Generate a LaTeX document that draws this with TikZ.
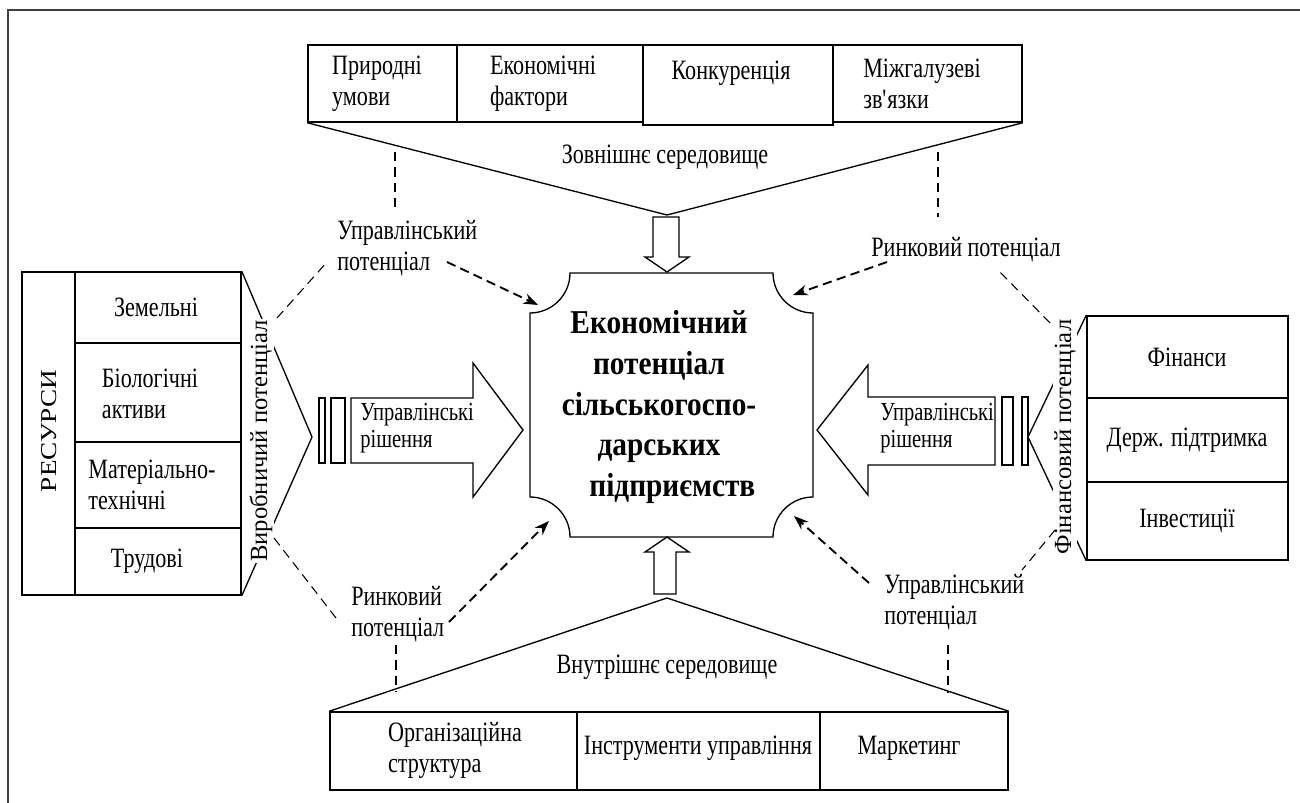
\documentclass[tikz,border=0pt]{standalone}
\usepackage{fontspec}
\setmainfont{Liberation Serif}[FakeStretch=0.79]
\newfontfamily\plainf{Liberation Serif}
\newfontfamily\widef{Liberation Serif}[FakeStretch=1.2]
\newfontfamily\boldf{Liberation Serif}[FakeStretch=0.88]
\usetikzlibrary{arrows.meta,fit,calc}
\begin{document}
\begin{tikzpicture}[x=0.75pt,y=-0.75pt,
  box/.style={draw,line width=1.15pt,inner sep=0pt},
  txt/.style={font=\fontsize{21pt}{23.25pt}\selectfont,align=left,inner sep=0pt},
  stxt/.style={font=\fontsize{19.5pt}{20pt}\selectfont,align=left,inner sep=0pt},
  rot/.style={font=\plainf\fontsize{18.5pt}{20pt}\selectfont,rotate=90,fill=white,inner sep=1pt},
  ln/.style={line width=1pt},
  dsh/.style={line width=0.8pt,dash pattern=on 7pt off 4.5pt},
  darr/.style={line width=1.4pt,dash pattern=on 7pt off 4pt,-{Stealth[length=11pt,width=8pt]}},
  blk/.style={draw,line width=1pt,fill=white,line join=miter}]
\useasboundingbox (0,0) rectangle (1300,803);
% frame
\draw[line width=1.5pt,black!75] (8,803) -- (8,10) -- (1300,10);

% top row
\node[box,fit={(308,45) (457,122)}] (t1) {};
\node[box,fit={(457,45) (643,122)}] (t2) {};
\node[box,fit={(643,45) (833,125)}] (t3) {};
\node[box,fit={(833,45) (1022,122)}] (t4) {};
\node[txt] (t1x) at (377,84) {Природні\\умови};
\node[txt] (t2x) at (543,84) {Економічні\\фактори};
\node[txt] (t3x) at (731,73) {Конкуренція};
\node[txt] (t4x) at (922,84) {Міжгалузеві\\зв\textquotesingle язки};
\coordinate (topapex) at (667,215);
\draw[ln] (t1.south west) -- (topapex) -- (t4.south east);
\node[txt] (ext) at (665,157) {Зовнішнє середовище};

% bottom row
\node[box,fit={(330,712) (577,790)}] (b1) {};
\node[box,fit={(577,712) (820,790)}] (b2) {};
\node[box,fit={(820,712) (1008,790)}] (b3) {};
\node[txt] (b1x) at (455,750) {Організаційна\\структура};
\node[txt] (b2x) at (698,748) {Інструменти управління};
\node[txt] (b3x) at (909,748) {Маркетинг};
\coordinate (botapex) at (667,598);
\draw[ln] (b1.north west) -- (botapex) -- (b3.north east);
\node[txt] (int) at (667,667) {Внутрішнє середовище};

% left resources
\node[box,fit={(22,272) (75,595)}] (res) {};
\node[font=\widef\fontsize{17pt}{18pt}\selectfont,rotate=90,inner sep=0pt] (resx) at (49,431) {РЕСУРСИ};
\node[box,fit={(75,272) (241,343)}] (l1) {};
\node[box,fit={(75,343) (241,442)}] (l2) {};
\node[box,fit={(75,442) (241,528)}] (l3) {};
\node[box,fit={(75,528) (241,595)}] (l4) {};
\node[txt] (l1x) at (156,307) {Земельні};
\node[txt] (l2x) at (150,394) {Біологічні\\активи};
\node[txt] (l3x) at (152,485) {Матеріально-\\технічні};
\node[txt] (l4x) at (147,561) {Трудові};
\coordinate (lpt) at (312,437);
\draw[ln] (l1.north east) -- (lpt) -- (l4.south east);
\node[rot] (vp) at (261,441) {Виробничий потенціал};

% right resources
\node[box,fit={(1087,316) (1288,398)}] (r1) {};
\node[box,fit={(1087,398) (1288,482)}] (r2) {};
\node[box,fit={(1087,482) (1288,560)}] (r3) {};
\node[txt] (r1x) at (1187,357) {Фінанси};
\node[txt] (r2x) at (1187,440) {Держ. підтримка};
\node[txt] (r3x) at (1187,521) {Інвестиції};
\coordinate (rpt) at (1028,437);
\draw[ln] (r1.north west) -- (rpt) -- (r3.south west);
\node[rot] (fp) at (1065,437) {Фінансовий потенціал};

% central node
\node[inner sep=0pt,fit={(530,273) (813,537)}] (core) {};
\draw[ln] (570,273) -- (773,273) .. controls (773,295) and (791,313) .. (813,313)
  -- (813,497) .. controls (791,497) and (773,515) .. (773,537)
  -- (570,537) .. controls (570,515) and (552,497) .. (530,497)
  -- (530,313) .. controls (552,313) and (570,295) .. (570,273) -- cycle;
\node[font=\boldf\bfseries\fontsize{25pt}{30.5pt}\selectfont,align=center,inner sep=0pt] (corex) at (659,407)
  {Економічний\\потенціал\\сільськогоспо-\\дарських\\\hspace*{0.8em}підприємств};

% block arrows top/bottom
\draw[blk] (653,217) -- (679,217) -- (679,257) -- (689,257) -- (667,272) -- (645,257) -- (653,257) -- cycle;
\draw[blk] (654,594) -- (676,594) -- (676,552) -- (689,552) -- (667,537) -- (645,552) -- (654,552) -- cycle;

% left decision arrow
\draw[blk] (319,398) rectangle (325,463);
\draw[blk] (331,398) rectangle (345,463);
\draw[blk] (351,398) -- (473,398) -- (473,363) -- (523,430) -- (473,497) -- (473,463) -- (351,463) -- cycle;
\node[stxt,anchor=west] (ld) at (360,428) {Управлінські\\рішення};

% right decision arrow
\draw[blk] (1002,397) rectangle (1013,465);
\draw[blk] (1022,397) rectangle (1028,465);
\draw[blk] (995,397) -- (868,397) -- (868,365) -- (817,430) -- (868,495) -- (868,465) -- (995,465) -- cycle;
\node[stxt,anchor=west] (rd) at (880,428) {Управлінські\\рішення};

% potential labels
\node[txt,anchor=west] (ul) at (337,248) {Управлінський\\потенціал};
\node[txt] (ur) at (966,250) {Ринковий потенціал};
\node[txt,anchor=west] (ll) at (351,614) {Ринковий\\потенціал};
\node[txt,anchor=west] (lr) at (884,602) {Управлінський\\потенціал};

% dashed verticals
\draw[dsh] (395,152) -- (395,213);
\draw[dsh] (938,152) -- (938,217);
\draw[dsh] (396,645) -- (396,692);
\draw[dsh] (948,645) -- (948,693);

% dashed links to side labels
\coordinate (vpA) at (277,318); \coordinate (ulA) at (327,262);
\coordinate (vpB) at (274,538); \coordinate (llA) at (336,618);
\coordinate (fpA) at (1050,323); \coordinate (urA) at (1000,272);
\coordinate (fpB) at (1055,530); \coordinate (lrA) at (1022,570);
\draw[dsh] (vpA) -- (ulA);
\draw[dsh] (vpB) -- (llA);
\draw[dsh] (fpA) -- (urA);
\draw[dsh] (fpB) -- (lrA);

% dashed arrows to the core
\coordinate (ulS) at (447,262); \coordinate (cUL) at (538,305);
\coordinate (urS) at (887,262); \coordinate (cUR) at (793,295);
\coordinate (llS) at (449,622); \coordinate (cLL) at (549,521);
\coordinate (lrS) at (869,583); \coordinate (cLR) at (794,516);
\draw[darr] (ulS) -- (cUL);
\draw[darr] (urS) -- (cUR);
\draw[darr] (llS) -- (cLL);
\draw[darr] (lrS) -- (cLR);
\end{tikzpicture}
\end{document}
